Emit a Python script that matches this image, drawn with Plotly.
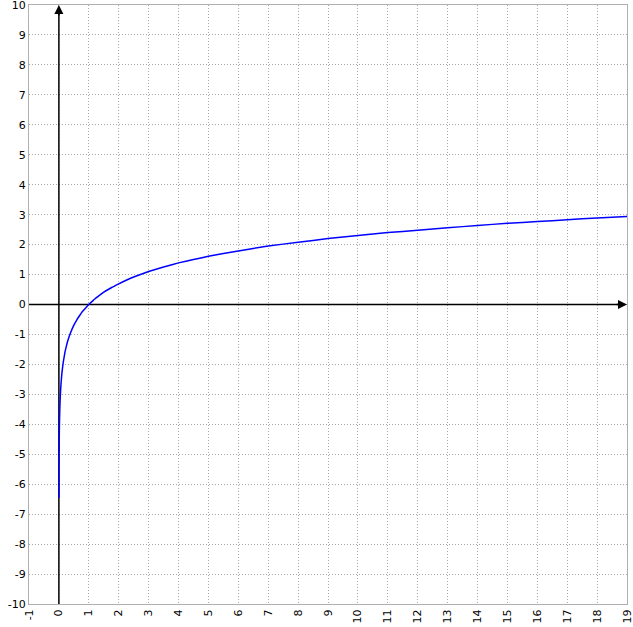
import plotly.graph_objects as go

# Curve points (x, y)
curve_x = [0.0016, 0.002, 0.003, 0.004, 0.005, 0.007, 0.01, 0.015, 0.02, 0.03, 0.04, 0.05, 0.06,
           0.08, 0.1, 0.125, 0.15, 0.2, 0.25, 0.3, 0.35, 0.4, 0.5, 0.6, 0.7, 0.8, 0.9, 1.0, 1.15,
           1.3, 1.5, 1.75, 2.0, 2.25, 2.5, 3.0, 3.5, 4.0, 4.5, 5.0, 6.0, 7.0, 8.0, 9.0, 10.0, 11.0,
           12.0, 13.0, 14.0, 15.0, 16.0, 17.0, 18.0, 19.0]
curve_y = [-6.45, -6.2, -5.8, -5.52, -5.3, -4.96, -4.6, -4.2, -3.9, -3.5, -3.22, -3.0, -2.81,
           -2.53, -2.3, -2.08, -1.9, -1.61, -1.39, -1.2, -1.05, -0.92, -0.69, -0.51, -0.36, -0.22,
           -0.11, 0.0, 0.14, 0.26, 0.41, 0.56, 0.69, 0.81, 0.92, 1.1, 1.25, 1.39, 1.5, 1.61, 1.79,
           1.95, 2.08, 2.2, 2.3, 2.4, 2.48, 2.56, 2.64, 2.71, 2.77, 2.83, 2.89, 2.94]

x_ticks = list(range(-1, 20))
y_ticks = list(range(-10, 11))

fig = go.Figure()
fig.add_trace(go.Scatter(x=curve_x, y=curve_y, mode="lines",
                         line=dict(color="#0000ff", width=1.5, shape="spline", smoothing=0.3),
                         hoverinfo="skip", showlegend=False, cliponaxis=False))

axis_common = dict(showgrid=True, gridcolor="#a8a8a8", griddash="1px,2px", gridwidth=1,
                   zeroline=False, showline=True, linecolor="#b0b0b0", linewidth=1,
                   mirror=True, ticks="", automargin=False, ticklabeloverflow="allow",
                   tickfont=dict(family="DejaVu Sans", size=11, color="black"))

fig.update_xaxes(range=[-1, 19], tickmode="array", tickvals=x_ticks,
                 ticktext=[str(v) for v in x_ticks], tickangle=-90, **axis_common)
fig.update_yaxes(range=[-10, 10], tickmode="array", tickvals=y_ticks,
                 ticktext=[str(v) for v in y_ticks], **axis_common)

# axis lines
fig.add_shape(type="line", x0=0, x1=0, y0=-10, y1=9.7, xref="x", yref="y",
              line=dict(color="black", width=1.5), layer="between")
fig.add_shape(type="line", x0=-1, x1=18.7, y0=0, y1=0, xref="x", yref="y",
              line=dict(color="black", width=1.5), layer="between")
# arrow heads
fig.add_annotation(x=0, y=10, ax=0, ay=9.6, xref="x", yref="y", axref="x", ayref="y",
                   text="", showarrow=True, arrowhead=2, arrowsize=1.2, arrowwidth=1.5,
                   arrowcolor="black")
fig.add_annotation(x=19, y=0, ax=18.6, ay=0, xref="x", yref="y", axref="x", ayref="y",
                   text="", showarrow=True, arrowhead=2, arrowsize=1.2, arrowwidth=1.5,
                   arrowcolor="black")

fig.update_layout(width=633, height=627, margin=dict(l=29, r=6, t=5, b=23, autoexpand=False),
                  paper_bgcolor="white", plot_bgcolor="white", showlegend=False)

fig.write_html("out.html", config={"displayModeBar": False},
               post_script="document.body.style.margin='0';document.body.style.overflow='hidden';")
